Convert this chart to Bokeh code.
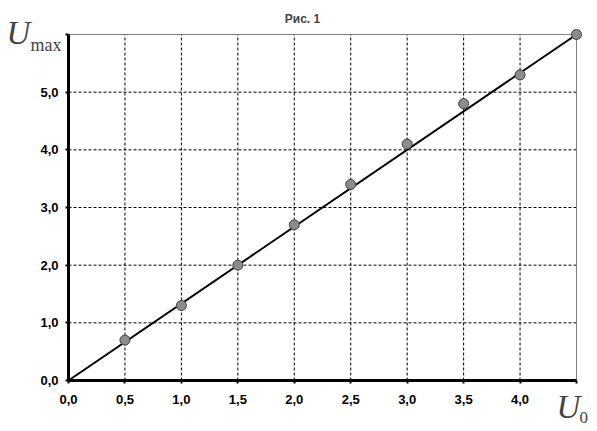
from bokeh.plotting import figure
from bokeh.models import FixedTicker, Label, Range1d, LinearAxis
from bokeh.embed import file_html
from bokeh.resources import INLINE

# data
u0 = [0.5, 1.0, 1.5, 2.0, 2.5, 3.0, 3.5, 4.0, 4.5]
umax = [0.7, 1.3, 2.0, 2.7, 3.4, 4.1, 4.8, 5.3, 6.0]
fit_x = [0.0, 4.5]
fit_y = [0.0, 6.0]
x_ticks = [0.0, 0.5, 1.0, 1.5, 2.0, 2.5, 3.0, 3.5, 4.0, 4.5]
x_tick_labels = ["0,0", "0,5", "1,0", "1,5", "2,0", "2,5", "3,0", "3,5", "4,0", ""]
y_ticks = [0.0, 1.0, 2.0, 3.0, 4.0, 5.0, 6.0]
y_tick_labels = ["0,0", "1,0", "2,0", "3,0", "4,0", "5,0", ""]
title_text = "Рис. 1"
x_max = 4.5
y_max = 6.0

# layout (pixels)
W, H = 595, 429
left_px, right_px, top_px, bottom_px = 68, 576, 34, 380
sx = (right_px - left_px) / x_max
sy = (bottom_px - top_px) / y_max
xr = Range1d(-left_px / sx, (W - left_px) / sx)
yr = Range1d(-(H - bottom_px) / sy, bottom_px / sy)

p = figure(width=W, height=H, output_backend="svg", toolbar_location=None,
           x_range=xr, y_range=yr, title=None,
           x_axis_location=None, y_axis_location=None,
           min_border=0, min_border_left=0, min_border_right=0,
           min_border_top=0, min_border_bottom=0)
p.background_fill_color = "white"
p.border_fill_color = "white"
p.outline_line_color = None
p.xgrid.visible = False
p.ygrid.visible = False

xaxis = LinearAxis(fixed_location=0, bounds=(0, x_max))
yaxis = LinearAxis(fixed_location=0, bounds=(0, y_max))
p.add_layout(xaxis, "below")
p.add_layout(yaxis, "left")

for ax, ticks, labels in ((xaxis, x_ticks, x_tick_labels), (yaxis, y_ticks, y_tick_labels)):
    ax.ticker = FixedTicker(ticks=ticks)
    ax.major_label_overrides = {t: l for t, l in zip(ticks, labels)}
    ax.minor_tick_line_color = None
    ax.axis_line_width = 3
    ax.axis_line_color = "black"
    ax.major_tick_line_width = 2
    ax.major_tick_out = 3
    ax.major_tick_in = 0
    ax.major_label_text_font = "Liberation Sans"
    ax.major_label_text_font_style = "bold"
    ax.major_label_text_font_size = "13px"
    ax.major_label_text_color = "black"

xaxis.major_label_standoff = 11
yaxis.major_label_standoff = 7

# dashed grid inside the data area
gx = [t for t in x_ticks if 0 < t < x_max]
gy = [t for t in y_ticks if 0 < t < y_max]
p.segment(x0=gx, y0=[0] * len(gx), x1=gx, y1=[y_max] * len(gx),
          line_color="black", line_dash="3 2", line_width=1)
p.segment(x0=[0] * len(gy), y0=gy, x1=[x_max] * len(gy), y1=gy,
          line_color="black", line_dash="3 2", line_width=1)

# gray top/right border
p.line([0, x_max, x_max], [y_max, y_max, 0], line_color="#808080", line_width=1)

p.line(fit_x, fit_y, line_color="black", line_width=2)
p.scatter(u0, umax, size=10, fill_color="#8c8c8c", line_color="#404040", line_width=1)

def px2x(px):
    return (px - left_px) / sx

def px2y(py):
    return (bottom_px - py) / sy

# title
p.add_layout(Label(x=px2x(302), y=px2y(18), text=title_text,
                   text_font="Liberation Sans", text_font_style="bold", text_font_size="12px",
                   text_align="center", text_baseline="middle"))
# y label
p.add_layout(Label(x=px2x(6), y=px2y(32), text="U",
                   text_font="Liberation Serif", text_font_style="italic", text_font_size="33px",
                   text_baseline="middle"))
p.add_layout(Label(x=px2x(30), y=px2y(44), text="max",
                   text_font="Liberation Serif", text_font_size="18px",
                   text_baseline="middle"))
# x label
p.add_layout(Label(x=px2x(556), y=px2y(406), text="U",
                   text_font="Liberation Serif", text_font_style="italic", text_font_size="33px",
                   text_baseline="middle"))
p.add_layout(Label(x=px2x(579), y=px2y(417), text="0",
                   text_font="Liberation Serif", text_font_size="17px",
                   text_baseline="middle"))

open("out.html", "w").write(file_html(p, INLINE))
